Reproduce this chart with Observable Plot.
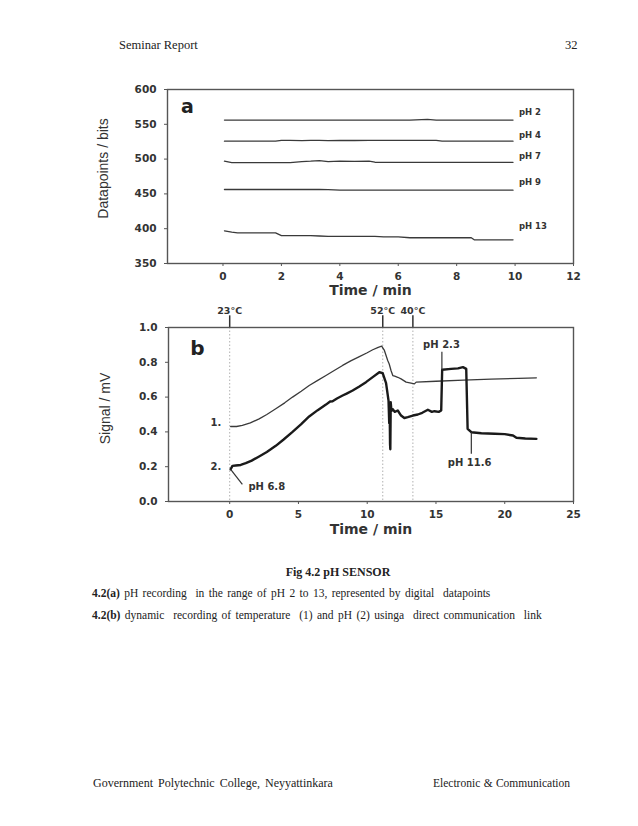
<!DOCTYPE html>
<html>
<head>
<meta charset="utf-8">
<script src="https://cdn.jsdelivr.net/npm/d3@7"></script>
<script src="https://cdn.jsdelivr.net/npm/@observablehq/plot@0.6"></script>
<style>
  html, body { margin: 0; padding: 0; background: #fff; }
  #page { position: relative; width: 638px; height: 826px; overflow: hidden; background: #fff;
          font-family: "Liberation Serif", "Times New Roman", serif; color: #222; }
  .t { position: absolute; white-space: nowrap; line-height: 16px; }
  .svgbox { position: absolute; left: 0; }
</style>
</head>
<body>
<div id="page">
  <div class="t" style="left:119px; top:37px; font-size:12.5px;">Seminar Report</div>
  <div class="t" style="left:565px; top:37px; font-size:12.5px;">32</div>
  <div id="plotA" class="svgbox" style="top:70px;"></div>
  <div id="plotB" class="svgbox" style="top:300px;"></div>
  <div class="t" style="left:0; width:676px; text-align:center; top:564px; font-size:12px; font-weight:bold;">Fig 4.2 pH SENSOR</div>
  <div class="t" style="left:92px; top:585px; font-size:11.5px; word-spacing:1.5px;"><b>4.2(a)</b> pH recording&nbsp; in the range of pH 2 to 13, represented by digital&nbsp; datapoints</div>
  <div class="t" style="left:92px; top:607px; font-size:11.5px; word-spacing:1.5px;"><b>4.2(b)</b> dynamic&nbsp; recording of temperature&nbsp; (1) and pH (2) usinga&nbsp; direct communication&nbsp; link</div>
  <div class="t" style="left:93px; top:775px; font-size:12px; word-spacing:2px;">Government Polytechnic College, Neyyattinkara</div>
  <div class="t" style="left:433px; top:775px; font-size:11.5px; word-spacing:0.5px;">Electronic &amp; Communication</div>
</div>
<script>
// ---------- Panel (a) data ----------
const timeA = [0.05, 0.3, 0.5, 1, 1.5, 1.8, 2, 2.3, 2.7, 3, 3.3, 3.6, 4, 4.5, 5, 5.2, 5.5, 6, 6.4, 7, 7.3, 7.5, 8, 8.5, 8.6, 9, 9.5, 9.93];
const pH2  = [556, 556, 556, 556, 556, 556, 556, 556, 556, 556, 556, 556, 556, 556, 556, 556, 556, 556, 556, 557, 556, 556, 556, 556, 556, 556, 556, 556];
const pH4  = [525.7, 525.7, 525.7, 525.7, 525.7, 525.7, 527, 527, 526.5, 527, 527, 526.5, 527, 526.7, 527, 527, 527, 527, 527, 527, 527, 525.8, 525.7, 525.7, 525.7, 525.7, 525.7, 525.7];
const pH7  = [497, 495, 494.8, 494.8, 494.8, 494.8, 494.8, 495, 496.5, 497, 497.8, 496.3, 497, 496.8, 497, 495.5, 495.3, 495.3, 495.3, 495.3, 495.3, 495.3, 495.3, 495.3, 495.3, 495.3, 495.3, 495.3];
const pH9  = [456.3, 456.3, 456.3, 456.3, 456.3, 456.3, 456.3, 456.3, 456.3, 456.3, 456.3, 456, 455.4, 455.4, 455.4, 455.4, 455.4, 455.4, 455.4, 455.4, 455.4, 455.4, 455.4, 455.4, 455.4, 455.4, 455.4, 455.4];
const pH13 = [397, 395, 394, 394, 394, 394, 390, 390, 390, 390, 389.5, 389, 389, 389, 389, 389, 388.3, 388.3, 387, 387, 387, 387, 387, 387, 384, 384, 384, 384];
const seriesNamesA = ["pH 2", "pH 4", "pH 7", "pH 9", "pH 13"];
const seriesA = [pH2, pH4, pH7, pH9, pH13];
const labelYA = [568, 534, 504, 467, 404];
const xTicksA = [0, 2, 4, 6, 8, 10, 12];
const yTicksA = [350, 400, 450, 500, 550, 600];

// ---------- Panel (b) data ----------
const timeTemp = [0.07, 0.5, 0.92, 1.5, 2.14, 2.7, 3.35, 4, 4.57, 5.2, 5.78, 6.4, 7.0, 7.6, 8.21, 8.8, 9.43, 10.0, 10.4, 10.8, 11.05, 11.25, 11.49, 11.6, 11.73, 11.86, 12.0, 12.22, 12.46, 12.83, 13.19, 13.43, 13.56, 15, 17, 19, 21, 22.3];
const tempSignal = [0.431, 0.431, 0.437, 0.452, 0.475, 0.50, 0.533, 0.567, 0.60, 0.634, 0.667, 0.696, 0.724, 0.753, 0.782, 0.808, 0.833, 0.855, 0.872, 0.886, 0.893, 0.868, 0.81, 0.79, 0.753, 0.724, 0.72, 0.714, 0.705, 0.686, 0.68, 0.676, 0.686, 0.691, 0.697, 0.703, 0.708, 0.711];
const timePH = [0.07, 0.2, 0.44, 0.8, 1.17, 1.6, 2.14, 2.7, 3.35, 3.9, 4.57, 5.2, 5.78, 6.4, 7.0, 7.3, 7.48, 7.8, 8.21, 8.5, 8.94, 9.4, 9.91, 10.4, 10.88, 11.13, 11.37, 11.55, 11.6, 11.63, 11.66, 11.68, 11.71, 11.76, 11.86, 12.0, 12.22, 12.46, 12.7, 12.95, 13.32, 13.68, 14.0, 14.41, 14.7, 14.89, 15.2, 15.38, 15.45, 16.1, 16.6, 16.96, 17.2, 17.3, 17.57, 18.3, 19.26, 20.0, 20.6, 20.85, 21.5, 22.3];
const pHSignal = [0.185, 0.205, 0.207, 0.21, 0.22, 0.235, 0.259, 0.285, 0.32, 0.355, 0.40, 0.445, 0.489, 0.525, 0.557, 0.575, 0.576, 0.592, 0.609, 0.62, 0.638, 0.66, 0.686, 0.715, 0.743, 0.737, 0.68, 0.58, 0.45, 0.56, 0.33, 0.30, 0.57, 0.52, 0.53, 0.515, 0.523, 0.494, 0.48, 0.485, 0.494, 0.50, 0.51, 0.527, 0.515, 0.519, 0.515, 0.523, 0.757, 0.762, 0.765, 0.772, 0.762, 0.418, 0.398, 0.392, 0.389, 0.387, 0.379, 0.366, 0.362, 0.36];
const tempMarkX = [0, 11.13, 13.32];
const tempLabels = ["23°C", "52°C", "40°C"];
const xTicksB = [0, 5, 10, 15, 20, 25];
const yTicksB = [0, 0.2, 0.4, 0.6, 0.8, 1.0];
const annotStartB = [
  {text: "pH 6.8", x: 1.36, y: 0.082}
];
const annotMidB = [
  {text: "pH 2.3", x: 15.4, y: 0.90},
  {text: "pH 11.6", x: 17.45, y: 0.22},
  {text: "1.", x: -1.0, y: 0.45},
  {text: "2.", x: -1.0, y: 0.20}
];
const pointersB = [
  {x1: 0.07, y1: 0.185, x2: 0.92, y2: 0.098},
  {x1: 15.43, y1: 0.86, x2: 15.43, y2: 0.757},
  {x1: 17.57, y1: 0.398, x2: 17.57, y2: 0.274}
];

const tickFont = {fontFamily: "DejaVu Sans, sans-serif", fontWeight: "bold", fontSize: "10.5px"};
const ink = "#333";
const yLabelFont = "Liberation Sans, Arial, sans-serif";

// ---------- Build panel (a) ----------
const rowsA = [];
seriesA.forEach((vals, s) => vals.forEach((v, i) => rowsA.push({t: timeA[i], v, series: seriesNamesA[s]})));
const labelRowsA = seriesNamesA.map((n, i) => ({text: n, x: 10.13, y: labelYA[i]}));

const plotA = Plot.plot({
  width: 638, height: 230,
  marginLeft: 167, marginRight: 65, marginTop: 19, marginBottom: 37,
  style: {...tickFont, color: ink, background: "transparent", overflow: "visible"},
  x: {domain: [-1.9, 12]},
  y: {domain: [350, 600]},
  marks: [
    Plot.line(rowsA, {x: "t", y: "v", z: "series", stroke: "#3a3a3a", strokeWidth: 1.3}),
    Plot.text(labelRowsA, {x: "x", y: "y", text: "text", textAnchor: "start", fontSize: 8.5, fontWeight: "bold", fill: ink}),
    Plot.text(["a"], {text: d => d, frameAnchor: "top-left", dx: 20, dy: 17, textAnchor: "middle", lineAnchor: "middle", fontSize: 19, fontWeight: "bold", fill: "#222"}),
    Plot.frame({stroke: "#555", strokeWidth: 1.4}),
    Plot.axisX({ticks: xTicksA, tickSize: 3, tickPadding: 6, label: null, stroke: "#555"}),
    Plot.axisY({ticks: yTicksA, tickSize: 3, tickPadding: 8, label: null, stroke: "#555"}),
    Plot.text(["Time / min"], {text: d => d, frameAnchor: "bottom", dy: 27, textAnchor: "middle", lineAnchor: "middle", fontSize: 14, fontWeight: "bold", fill: ink}),
    Plot.text(["Datapoints / bits"], {text: d => d, frameAnchor: "left", dx: -64, dy: -8, rotate: -90, textAnchor: "middle", lineAnchor: "middle", fontSize: 14, fontWeight: "normal", fontFamily: yLabelFont, fill: ink})
  ]
});
document.getElementById("plotA").append(plotA);

// ---------- Build panel (b) ----------
const tempRows = timeTemp.map((t, i) => ({t, v: tempSignal[i]}));
const pHRows = timePH.map((t, i) => ({t, v: pHSignal[i]}));

const plotB = Plot.plot({
  width: 638, height: 245,
  marginLeft: 168, marginRight: 65, marginTop: 27, marginBottom: 44,
  style: {...tickFont, color: ink, background: "transparent", overflow: "visible"},
  x: {domain: [-4.45, 25]},
  y: {domain: [0, 1]},
  marks: [
    Plot.ruleX(tempMarkX, {stroke: "#b0b0b0", strokeWidth: 1, strokeDasharray: "1.5,2"}),
    Plot.ruleX(tempMarkX, {y1: 1.0, y2: 1.067, stroke: "#333", strokeWidth: 1.5}),
    Plot.text(tempLabels, {text: d => d, x: (d, i) => tempMarkX[i], frameAnchor: "top", dy: -17, textAnchor: "middle", lineAnchor: "middle", fontSize: 9.5, fontWeight: "bold", fill: ink}),
    Plot.line(tempRows, {x: "t", y: "v", stroke: "#3a3a3a", strokeWidth: 1.3}),
    Plot.line(pHRows, {x: "t", y: "v", stroke: "#1a1a1a", strokeWidth: 2.4, strokeLinejoin: "round"}),
    Plot.link(pointersB, {x1: "x1", y1: "y1", x2: "x2", y2: "y2", stroke: "#333", strokeWidth: 1.2}),
    Plot.text(annotStartB, {x: "x", y: "y", text: "text", textAnchor: "start", fontSize: 10, fontWeight: "bold", fill: ink}),
    Plot.text(annotMidB, {x: "x", y: "y", text: "text", textAnchor: "middle", fontSize: 10, fontWeight: "bold", fill: ink}),
    Plot.text(["b"], {text: d => d, frameAnchor: "top-left", dx: 29, dy: 21, textAnchor: "middle", lineAnchor: "middle", fontSize: 20, fontWeight: "bold", fill: "#222"}),
    Plot.frame({stroke: "#555", strokeWidth: 1.4}),
    Plot.axisX({ticks: xTicksB, tickSize: 3, tickPadding: 6, label: null, stroke: "#555"}),
    Plot.axisY({ticks: yTicksB, tickSize: 3, tickPadding: 8, label: null, stroke: "#555", tickFormat: d3.format(".1f")}),
    Plot.text(["Time / min"], {text: d => d, frameAnchor: "bottom", dy: 28, textAnchor: "middle", lineAnchor: "middle", fontSize: 14, fontWeight: "bold", fill: ink}),
    Plot.text(["Signal / mV"], {text: d => d, frameAnchor: "left", dx: -63, dy: -6, rotate: -90, textAnchor: "middle", lineAnchor: "middle", fontSize: 14, fontWeight: "normal", fontFamily: yLabelFont, fill: ink})
  ]
});
document.getElementById("plotB").append(plotB);
</script>
</body>
</html>
